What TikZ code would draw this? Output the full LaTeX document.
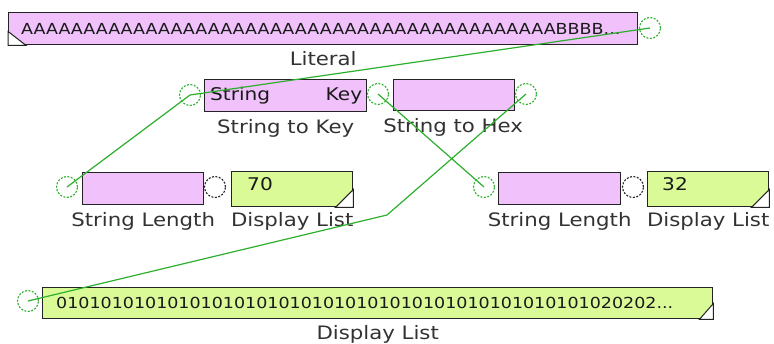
\documentclass[tikz,border=0pt]{standalone}
\usepackage{fontspec}
\setmainfont{DejaVu Sans}[FakeStretch=1.15]
\usetikzlibrary{positioning}

\definecolor{blockpink}{RGB}{240,193,250}
\definecolor{blocklime}{RGB}{218,250,152}
\definecolor{wiregreen}{RGB}{45,175,45}
\definecolor{blockline}{RGB}{35,35,35}
\definecolor{labelgray}{RGB}{50,50,50}

\begin{document}
\begin{tikzpicture}[x=1pt, y=-1pt,
  block/.style={draw=blockline, line width=1.4pt, anchor=north west, inner sep=0pt},
  strblock/.style={block, fill=blockpink},
  dispblock/.style={block, fill=blocklime},
  boxtext/.style={anchor=west, inner sep=0pt, text=black!90, font=\fontsize{15.2}{16}\selectfont},
  bigtext/.style={boxtext, font=\fontsize{17.5}{18}\selectfont},
  lbl/.style={anchor=base, inner sep=0pt, text=labelgray, font=\fontsize{18.5}{19}\selectfont},
  port/.style={circle, draw=wiregreen, fill=white, dashed, dash pattern=on 2pt off 1.5pt, line width=1.1pt, minimum size=21pt, inner sep=0pt},
  freeport/.style={port, draw=blockline},
  wire/.style={draw=wiregreen, line width=1.2pt},
  corner/.style={fill=white, draw=blockline, line width=1pt}]
\useasboundingbox (0,0) rectangle (774,343);

% top row
\node[strblock, minimum width=629pt, minimum height=32pt] (lit) at (8,12) {};
\node[boxtext] at ([xshift=13pt]lit.west) {AAAAAAAAAAAAAAAAAAAAAAAAAAAAAAAAAAAAAAAAAAABBBB...};
\filldraw[corner] (lit.south west) -- ([yshift=14pt]lit.south west) -- ([xshift=18pt]lit.south west) -- cycle;
\node[lbl] at ([yshift=-20pt]lit.south) {Literal};
\node[port] (litout) at (650,28) {};

% string to key / string to hex
\node[strblock, minimum width=162pt, minimum height=32pt] (key) at (204,79) {};
\node[bigtext] at ([xshift=6pt]key.west) {String};
\node[bigtext, anchor=east] at ([xshift=-5pt]key.east) {Key};
\node[lbl] at ([yshift=-21pt]key.south) {String to Key};
\node[port] (keyin) at (190,95) {};
\node[port] (keyout) at (378,94) {};

\node[strblock, minimum width=121pt, minimum height=31pt] (hex) at (393,79) {};
\node[lbl] at ([xshift=-1pt, yshift=-21pt]hex.south) {String to Hex};
\node[port] (hexout) at (526,94) {};

% lengths
\node[strblock, minimum width=121pt, minimum height=32pt] (lenA) at (82,172) {};
\node[lbl] at ([yshift=-21pt]lenA.south) {String Length};
\node[port] (lenAin) at (67,187) {};
\node[freeport] (lenAout) at (215,187) {};
\node[dispblock, minimum width=121pt, minimum height=35pt] (dispA) at (231,171) {};
\node[bigtext] at ([xshift=16pt, yshift=5pt]dispA.west) {70};
\filldraw[corner] (dispA.south east) -- ([yshift=18pt]dispA.south east) -- ([xshift=-18pt]dispA.south east) -- cycle;
\node[lbl] at ([yshift=-19pt]dispA.south) {Display List};

\node[strblock, minimum width=122pt, minimum height=32pt] (lenB) at (498,172) {};
\node[lbl] at ([yshift=-21pt]lenB.south) {String Length};
\node[port] (lenBin) at (484,187) {};
\node[freeport] (lenBout) at (633,187) {};
\node[dispblock, minimum width=121pt, minimum height=35pt] (dispB) at (647,171) {};
\node[bigtext] at ([xshift=15pt, yshift=5pt]dispB.west) {32};
\filldraw[corner] (dispB.south east) -- ([yshift=18pt]dispB.south east) -- ([xshift=-18pt]dispB.south east) -- cycle;
\node[lbl] at ([yshift=-19pt]dispB.south) {Display List};

% bottom display
\node[dispblock, minimum width=670pt, minimum height=31pt] (dispC) at (42,287) {};
\node[boxtext] at ([xshift=14pt]dispC.west) {010101010101010101010101010101010101010101010101020202...};
\filldraw[corner] (dispC.south east) -- ([yshift=16pt]dispC.south east) -- ([xshift=-14pt]dispC.south east) -- cycle;
\node[lbl] at ([yshift=-20pt]dispC.south) {Display List};
\node[port] (dispCin) at (28,301) {};

% wires
\coordinate (bend) at (387,215);
\draw[wire] (litout.center) -- (keyin.center);
\draw[wire] (keyin.center) -- (lenAin.center);
\draw[wire] (keyout.center) -- (lenBin.center);
\draw[wire] (hexout.center) -- (bend) -- (dispCin.center);
\end{tikzpicture}
\end{document}
